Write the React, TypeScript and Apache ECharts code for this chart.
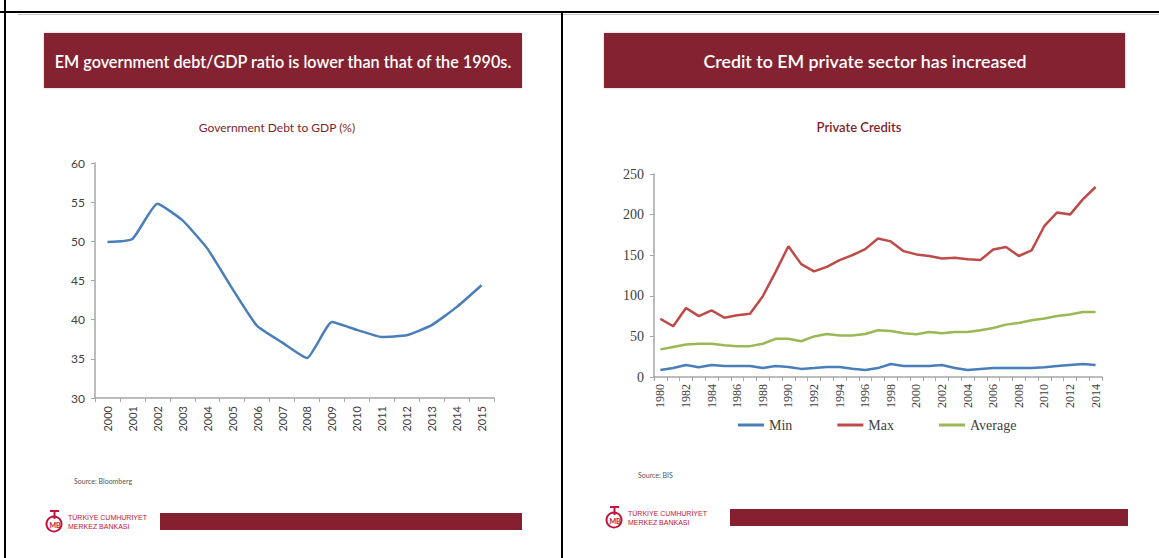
import React, { useEffect, useRef } from "react";
import * as echarts from "echarts";

const debtYears = ["2000","2001","2002","2003","2004","2005","2006","2007","2008","2009","2010","2011","2012","2013","2014","2015"];
const debtValues = [49.9, 50.3, 54.8, 52.7, 49.1, 44.0, 39.2, 37.1, 35.1, 39.7, 38.7, 37.8, 38.0, 39.3, 41.6, 44.4];

const creditYears = ["1980","1981","1982","1983","1984","1985","1986","1987","1988","1989","1990","1991","1992","1993","1994","1995","1996","1997","1998","1999","2000","2001","2002","2003","2004","2005","2006","2007","2008","2009","2010","2011","2012","2013","2014"];
const creditMin = [8.6, 11, 14.8, 12, 14.8, 13.5, 13.5, 13.5, 11, 13.5, 12.3, 10, 11, 12.3, 12.3, 10.3, 8.6, 11, 16, 13.5, 13.5, 13.5, 14.8, 11, 8.6, 10, 11, 11, 11, 11, 12, 13.5, 14.8, 16, 14.8];
const creditMax = [71.5, 62.5, 85, 75, 82, 73, 76, 78, 99.5, 129.5, 161, 139, 130, 135.7, 144, 150, 157.5, 170.6, 167, 155, 151, 149, 146, 147, 145, 144, 157, 160, 149, 156, 186, 202.7, 200, 218.7, 234];
const creditAvg = [34, 37, 40, 41, 41, 39, 38, 38, 41, 47, 47, 44, 50, 53, 51, 51, 53, 57.5, 56.7, 54, 52.6, 55.5, 54, 55.5, 55.5, 57.5, 60.4, 64.5, 66.6, 70, 72, 75, 77, 80, 80];

const leftTitle = "EM government debt/GDP ratio is lower than that of the 1990s.";
const rightTitle = "Credit to EM private sector has increased";
const leftSub = "Government Debt to GDP (%)";
const rightSub = "Private Credits";

const BANNER = "#842030";
const CRIMSON = "#c4123a";
const AXIS = "#a6a6a6";
const LABEL = "#404040";

function logo(x: number, y: number) {
  return {
    type: "group",
    x,
    y,
    children: [
      { type: "ring", shape: { cx: 9, cy: 14, r: 8.5, r0: 6.5 }, style: { fill: CRIMSON } },
      { type: "rect", shape: { x: 5, y: 0, width: 9, height: 2 }, style: { fill: CRIMSON } },
      { type: "rect", shape: { x: 8.5, y: 0, width: 2, height: 9 }, style: { fill: CRIMSON } },
      { type: "text", x: 10, y: 15, style: { text: "MB", fill: CRIMSON, font: "bold 7px Lato", align: "center", verticalAlign: "middle" } },
      { type: "text", x: 23, y: 7, style: { text: "TÜRKİYE CUMHURİYET", fill: CRIMSON, font: "7px 'Liberation Sans'", verticalAlign: "middle" } },
      { type: "text", x: 23, y: 16, style: { text: "MERKEZ BANKASI", fill: CRIMSON, font: "7px 'Liberation Sans'", verticalAlign: "middle" } },
    ],
  };
}

export default function App() {
  const ref = useRef<HTMLDivElement>(null);
  useEffect(() => {
    if (!ref.current) return;
    const chart = echarts.init(ref.current, null, { renderer: "svg" });
    chart.setOption({
      animation: false,
      backgroundColor: "#ffffff",
      grid: [
        { left: 95, top: 163, width: 399, height: 235 },
        { left: 654, top: 174, width: 448, height: 203 },
      ],
      xAxis: [
        {
          type: "category",
          gridIndex: 0,
          data: debtYears,
          boundaryGap: true,
          axisLine: { lineStyle: { color: AXIS, width: 1.5 } },
          axisTick: { show: true, interval: 0, length: 4, lineStyle: { color: AXIS } },
          axisLabel: { rotate: 90, interval: 0, color: LABEL, fontFamily: "Lato", fontSize: 11, margin: 8 },
        },
        {
          type: "category",
          gridIndex: 1,
          data: creditYears,
          boundaryGap: true,
          axisLine: { lineStyle: { color: AXIS, width: 1.5 } },
          axisTick: { show: true, interval: 0, length: 4, lineStyle: { color: AXIS } },
          axisLabel: { rotate: 90, interval: 1, color: LABEL, fontFamily: "Liberation Serif", fontSize: 12, margin: 7 },
        },
      ],
      yAxis: [
        {
          type: "value",
          gridIndex: 0,
          min: 30,
          max: 60,
          interval: 5,
          axisLine: { show: true, lineStyle: { color: AXIS, width: 1.5 } },
          axisTick: { show: true, length: 4, lineStyle: { color: AXIS } },
          splitLine: { show: false },
          axisLabel: { color: LABEL, fontFamily: "Lato", fontSize: 12, margin: 10 },
        },
        {
          type: "value",
          gridIndex: 1,
          min: 0,
          max: 250,
          interval: 50,
          axisLine: { show: true, lineStyle: { color: AXIS, width: 1.5 } },
          axisTick: { show: true, length: 4, lineStyle: { color: AXIS } },
          splitLine: { show: false },
          axisLabel: { color: LABEL, fontFamily: "Liberation Serif", fontSize: 14, margin: 10 },
        },
      ],
      legend: {
        data: ["Min", "Max", "Average"],
        left: 733,
        top: 413,
        icon: "rect",
        itemWidth: 26,
        itemHeight: 3,
        itemGap: 45,
        textStyle: { fontFamily: "Liberation Serif", fontSize: 14, color: LABEL },
      },
      series: [
        {
          name: "Debt",
          type: "line",
          xAxisIndex: 0,
          yAxisIndex: 0,
          data: debtValues,
          symbol: "none",
          smooth: 0.15,
          lineStyle: { color: "#4a7ebb", width: 2.5 },
        },
        {
          name: "Min",
          type: "line",
          xAxisIndex: 1,
          yAxisIndex: 1,
          data: creditMin,
          symbol: "none",
          color: "#4a7ebb",
          lineStyle: { color: "#4a7ebb", width: 2.5 },
        },
        {
          name: "Max",
          type: "line",
          xAxisIndex: 1,
          yAxisIndex: 1,
          data: creditMax,
          symbol: "none",
          color: "#be4b48",
          lineStyle: { color: "#be4b48", width: 2.5 },
        },
        {
          name: "Average",
          type: "line",
          xAxisIndex: 1,
          yAxisIndex: 1,
          data: creditAvg,
          symbol: "none",
          color: "#98b954",
          lineStyle: { color: "#98b954", width: 2.5 },
        },
      ],
      graphic: [
        { type: "line", shape: { x1: 0, y1: 12, x2: 1159, y2: 12 }, style: { stroke: "#000", lineWidth: 2 } },
        { type: "line", shape: { x1: 18, y1: 14.5, x2: 1159, y2: 14.5 }, style: { stroke: "#c8c8c8", lineWidth: 1 } },
        { type: "line", shape: { x1: 5, y1: 0, x2: 5, y2: 558 }, style: { stroke: "#000", lineWidth: 2 } },
        { type: "line", shape: { x1: 562, y1: 12, x2: 562, y2: 558 }, style: { stroke: "#000", lineWidth: 2 } },
        { type: "rect", shape: { x: 44, y: 33, width: 478, height: 55 }, style: { fill: BANNER, shadowBlur: 2, shadowColor: "rgba(0,0,0,0.25)" } },
        { type: "text", x: 283, y: 61, style: { text: leftTitle, fill: "#fff", font: "600 16.2px Lato", align: "center", verticalAlign: "middle" } },
        { type: "rect", shape: { x: 604, y: 33, width: 521, height: 55 }, style: { fill: BANNER, shadowBlur: 2, shadowColor: "rgba(0,0,0,0.25)" } },
        { type: "text", x: 865, y: 61, style: { text: rightTitle, fill: "#fff", font: "600 17.8px Lato", align: "center", verticalAlign: "middle" } },
        { type: "text", x: 277, y: 127, style: { text: leftSub, fill: "#7f1f2c", font: "12px Lato", align: "center", verticalAlign: "middle" } },
        { type: "text", x: 859, y: 127, style: { text: rightSub, fill: "#7f1f2c", font: "600 13px Lato", align: "center", verticalAlign: "middle" } },
        { type: "text", x: 74, y: 481, style: { text: "Source: Bloomberg", fill: "#555", font: "7px Lato", verticalAlign: "middle" } },
        { type: "text", x: 638, y: 475, style: { text: "Source: BIS", fill: "#555", font: "7px Lato", verticalAlign: "middle" } },
        logo(45, 510),
        { type: "rect", shape: { x: 160, y: 513, width: 362, height: 17 }, style: { fill: BANNER } },
        logo(605, 506),
        { type: "rect", shape: { x: 730, y: 509, width: 398, height: 17 }, style: { fill: BANNER } },
      ],
    });
    return () => chart.dispose();
  }, []);
  return <div ref={ref} style={{ position: "absolute", left: 0, top: 0, width: 1159, height: 558 }} />;
}
